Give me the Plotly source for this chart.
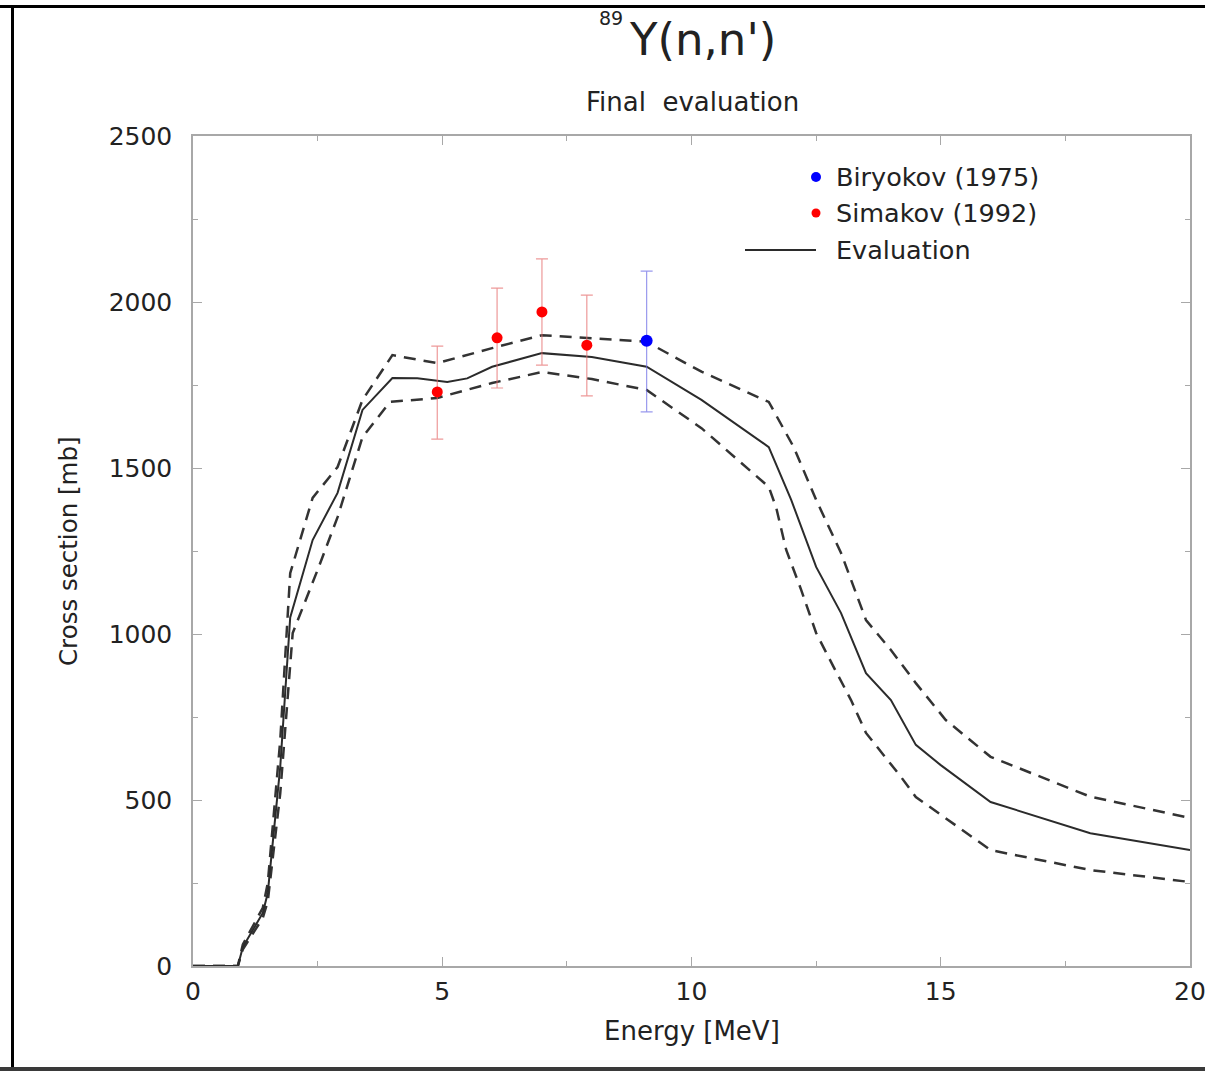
import plotly.graph_objects as go

# ---------------- data ----------------
eval_E = [0, 0.9, 1.0, 1.2, 1.4, 1.5, 1.6, 1.75, 1.95, 2.4, 2.9, 3.4, 4.0, 4.5, 5.1, 5.5, 6.0,
          7.0, 8.0, 9.1, 10.2, 11.55, 12.0, 12.5, 13.0, 13.5, 14.0, 14.5, 15.0, 16.0, 18.0, 20.0]
eval_xs = [0, 0, 57, 108, 160, 220, 380, 600, 1050, 1283, 1425, 1675, 1771, 1770, 1759, 1770, 1805,
           1846, 1834, 1805, 1705, 1563, 1404, 1202, 1063, 882, 801, 666, 605, 494, 400, 349]

upper_E = [0, 0.9, 1.0, 1.2, 1.4, 1.5, 1.6, 1.75, 1.95, 2.4, 2.9, 3.4, 4.0, 4.9, 6.0, 7.0, 8.0,
           9.1, 10.2, 11.55, 12.05, 12.5, 13.0, 13.5, 14.0, 14.5, 15.1, 16.0, 18.0, 20.0]
upper_xs = [0, 0, 65, 118, 175, 250, 430, 680, 1183, 1410, 1503, 1705, 1840, 1816, 1861, 1900, 1891,
            1880, 1790, 1699, 1563, 1404, 1244, 1042, 952, 852, 741, 630, 510, 446]

lower_E = [0, 0.9, 1.0, 1.2, 1.4, 1.5, 1.6, 1.75, 2.0, 2.5, 2.9, 3.4, 3.95, 4.9, 6.0, 7.0, 8.0,
           9.1, 10.2, 11.55, 11.7, 11.9, 12.2, 12.5, 12.85, 13.2, 13.5, 14.2, 14.5, 16.0, 18.0, 20.0]
lower_xs = [0, 0, 50, 98, 145, 195, 330, 520, 1003, 1193, 1352, 1593, 1699, 1711, 1756, 1789, 1768,
            1735, 1620, 1443, 1380, 1253, 1133, 1003, 901, 801, 702, 570, 509, 349, 289, 253]

simakov_E = [4.9, 6.1, 7.0, 7.9]
simakov_xs = [1729, 1892, 1970, 1870]
simakov_err_plus = [138, 150, 160, 151]
simakov_err_minus = [142, 151, 160, 153]

biryokov_E = [9.1]
biryokov_xs = [1883]
biryokov_err_plus = [210]
biryokov_err_minus = [214]

x_tickvals = [0, 5, 10, 15, 20]
y_tickvals = [0, 500, 1000, 1500, 2000, 2500]

legend_labels = ["Biryokov (1975)", "Simakov (1992)", "Evaluation"]

FONT = "DejaVu Sans, Verdana, sans-serif"
TXT = "#222222"
LINE = "#2b2b2b"

fig = go.Figure()

fig.add_trace(go.Scatter(x=upper_E, y=upper_xs, mode="lines",
                         line=dict(color="#333333", width=2.5, dash="12px,8px"),
                         showlegend=False, hoverinfo="skip"))
fig.add_trace(go.Scatter(x=lower_E, y=lower_xs, mode="lines",
                         line=dict(color="#333333", width=2.5, dash="12px,8px"),
                         showlegend=False, hoverinfo="skip"))
fig.add_trace(go.Scatter(x=eval_E, y=eval_xs, mode="lines",
                         line=dict(color=LINE, width=2), name="Evaluation", showlegend=False))

fig.add_trace(go.Scatter(x=simakov_E, y=simakov_xs, mode="markers",
                         marker=dict(color="#ff0000", size=11),
                         error_y=dict(type="data", array=simakov_err_plus, arrayminus=simakov_err_minus,
                                      color="rgba(230,110,110,0.7)", thickness=1.2, width=6),
                         name="Simakov (1992)", showlegend=False))
fig.add_trace(go.Scatter(x=biryokov_E, y=biryokov_xs, mode="markers",
                         marker=dict(color="#0000ff", size=12),
                         error_y=dict(type="data", array=biryokov_err_plus, arrayminus=biryokov_err_minus,
                                      color="rgba(110,110,230,0.7)", thickness=1.2, width=6),
                         name="Biryokov (1975)", showlegend=False))

axis_common = dict(showline=True, linecolor="#a8a8a8", linewidth=1.5, mirror="ticks",
                   ticks="inside", tickcolor="#a8a8a8", ticklen=9, tickwidth=1.2,
                   showgrid=False, zeroline=False, automargin=False,
                   ticklabeloverflow="allow",
                   tickfont=dict(family=FONT, size=25, color=TXT))

fig.update_xaxes(range=[0, 20], tickvals=x_tickvals, ticklabelstandoff=2,
                 minor=dict(dtick=2.5, ticks="inside", ticklen=5, tickcolor="#a8a8a8", showgrid=False),
                 **axis_common)
fig.update_yaxes(range=[0, 2500], tickvals=y_tickvals, ticklabelstandoff=14,
                 minor=dict(dtick=250, ticks="inside", ticklen=5, tickcolor="#a8a8a8", showgrid=False),
                 **axis_common)

W, H = 1205, 1071
L, R, T, B = 193, 15, 136, 105
pw, ph = W - L - R, H - T - B

def px(x):
    return (x - L) / pw

def py(y):
    return (H - B - y) / ph

annotations = [
    dict(text="Y(n,n')", x=px(627), y=py(40), xref="paper", yref="paper",
         showarrow=False, xanchor="left", yanchor="middle",
         font=dict(family=FONT, size=45, color=TXT)),
    dict(text="89", x=px(625), y=py(18), xref="paper", yref="paper",
         showarrow=False, xanchor="right", yanchor="middle",
         font=dict(family=FONT, size=19, color=TXT)),
    dict(text="Final  evaluation", x=px(692), y=py(102), xref="paper", yref="paper",
         showarrow=False, xanchor="center", yanchor="middle",
         font=dict(family=FONT, size=26, color=TXT)),
    dict(text="Energy [MeV]", x=px(692), y=py(1031), xref="paper", yref="paper",
         showarrow=False, xanchor="center", yanchor="middle",
         font=dict(family=FONT, size=26, color=TXT)),
    dict(text="Cross section [mb]", x=px(68), y=py(551), xref="paper", yref="paper",
         showarrow=False, xanchor="center", yanchor="middle", textangle=-90,
         font=dict(family=FONT, size=24.5, color=TXT)),
]
leg_y = [177, 213, 250]
for lab, yy in zip(legend_labels, leg_y):
    annotations.append(dict(text=lab, x=px(834), y=py(yy), xref="paper", yref="paper",
                            showarrow=False, xanchor="left", yanchor="middle",
                            font=dict(family=FONT, size=25.5, color=TXT)))

shapes = [
    # legend symbols
    dict(type="circle", xref="paper", yref="paper", xsizemode="pixel", ysizemode="pixel",
         xanchor=px(816), yanchor=py(177), x0=-5, x1=5, y0=-5, y1=5,
         fillcolor="#0000ff", line=dict(width=0)),
    dict(type="circle", xref="paper", yref="paper", xsizemode="pixel", ysizemode="pixel",
         xanchor=px(816), yanchor=py(213), x0=-4.5, x1=4.5, y0=-4.5, y1=4.5,
         fillcolor="#ff0000", line=dict(width=0)),
    dict(type="line", xref="paper", yref="paper", x0=px(745), x1=px(816), y0=py(250), y1=py(250),
         line=dict(color=LINE, width=2)),
    # outer frame of the picture
    dict(type="line", xref="paper", yref="paper", x0=px(0), x1=px(1205), y0=py(6.5), y1=py(6.5),
         line=dict(color="black", width=3)),
    dict(type="line", xref="paper", yref="paper", x0=px(12.5), x1=px(12.5), y0=py(5), y1=py(1068),
         line=dict(color="black", width=3)),
    dict(type="rect", xref="paper", yref="paper", x0=px(0), x1=px(1205), y0=py(1067), y1=py(1072),
         fillcolor="#3a3a3a", line=dict(width=0)),
]

fig.update_layout(
    width=W, height=H,
    margin=dict(l=L, r=R, t=T, b=B),
    paper_bgcolor="white", plot_bgcolor="white",
    showlegend=False,
    annotations=annotations,
    shapes=shapes,
    font=dict(family=FONT, color=TXT),
)

fig.write_html("out.html")
